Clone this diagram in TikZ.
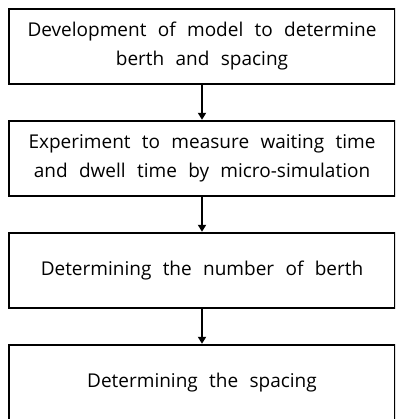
\documentclass[tikz,border=0pt]{standalone}
\usepackage{fontspec}
\setmainfont{Open Sans}[WordSpace=2.3]
\usetikzlibrary{arrows.meta}
\begin{document}
\begin{tikzpicture}[x=1pt,y=1pt,
  stepbox/.style={draw=black,line width=2.4pt,minimum width=386pt,minimum height=75pt,
    align=center,inner sep=0pt,font=\fontsize{19}{29}\selectfont},
  flow/.style={line width=2.2pt,-{Triangle[width=8pt,length=7pt]}}]
\useasboundingbox (0,0) rectangle (395,419);
\clip (0,0) rectangle (395,419);
\node[stepbox] (b1) at (202,372.5) {Development of model to determine\\berth and spacing};
\node[stepbox] (b2) at (202,260.5) {Experiment to measure waiting time\\and dwell time by micro-simulation};
\node[stepbox] (b3) at (202,148.5) {Determining the number of berth};
\node[stepbox] (b4) at (202,36.5) {Determining the spacing};
\draw[flow] (b1) -- (b2);
\draw[flow] (b2) -- (b3);
\draw[flow] (b3) -- (b4);
\end{tikzpicture}
\end{document}
